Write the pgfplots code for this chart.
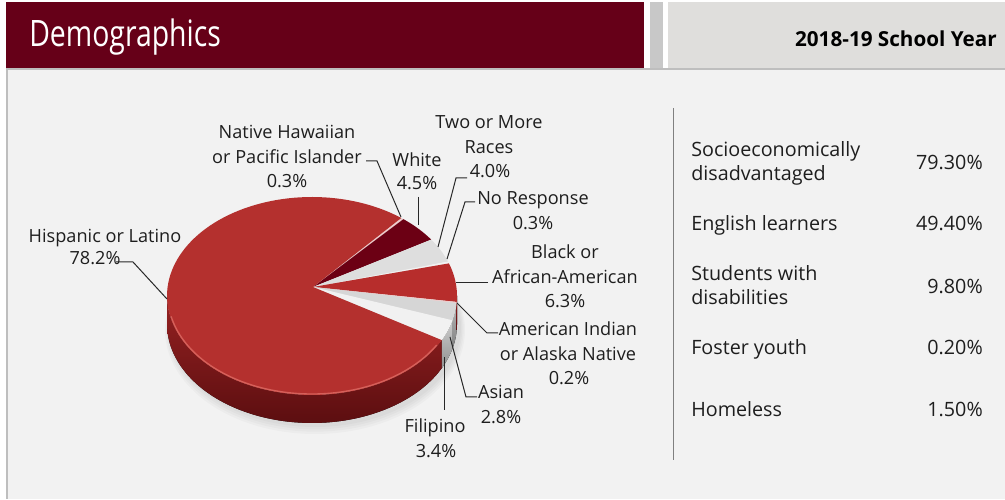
\documentclass[border=0pt]{standalone}
\usepackage{pgfplots}
\pgfplotsset{compat=1.18}
\usepgfplotslibrary{fillbetween}
\usepackage{graphicx}
\usepackage{fontspec}
\setmainfont{Open Sans}

\definecolor{maroonhdr}{RGB}{102,0,24}
\definecolor{hdrgrey}{RGB}{223,222,220}
\definecolor{bargrey}{RGB}{200,200,200}
\definecolor{bodybg}{RGB}{242,242,242}
\definecolor{linegrey}{RGB}{190,190,190}
\definecolor{hisp}{RGB}{180,48,46}
\definecolor{sidetop}{RGB}{150,34,34}
\definecolor{sidebot}{RGB}{92,14,16}
\definecolor{whiteslice}{RGB}{108,0,20}
\definecolor{twoslice}{RGB}{222,222,222}
\definecolor{blackslice}{RGB}{183,45,44}
\definecolor{asianslice}{RGB}{214,214,214}
\definecolor{filslice}{RGB}{241,241,241}
\definecolor{thinslice}{RGB}{238,205,205}
\definecolor{rimlight}{RGB}{214,96,90}
\definecolor{txt}{RGB}{30,30,30}
\definecolor{leader}{RGB}{40,40,40}

% pie geometry (pixels): centre 312,296 ; radii 145 x 99 ; depth 28 ; apex 313,287 ; start angle 52
% slice between cumulative percentages #2 and #3 (clockwise from the start angle)
\newcommand{\slice}[3]{%
  \addplot[fill=#1, draw=none, domain=52-3.6*#3:52-3.6*#2, samples=120]
    ({312+145*cos(x)},{296-99*sin(x)}) -- (axis cs:313,287) -- cycle;}
\newcommand{\sidepiece}[4]{%
  \addplot[name path=st#1, draw=none, domain=#3:#4, samples=80]
    ({312+145*cos(x)},{296-99*sin(x)});
  \addplot[name path=sb#1, draw=none, domain=#3:#4, samples=80]
    ({312+145*cos(x)},{324-99*sin(x)});
  \addplot[#2] fill between[of=st#1 and sb#1, on layer=main];}
\newcommand{\pl}[3]{\node[font=\fontsize{13.6}{16}\selectfont, text=txt, inner sep=0pt,
  text height=9.7pt, text depth=0pt, anchor=center] at (axis cs:#1,#2) {#3};}
\newcommand{\rl}[4]{\node[font=\fontsize{14.8}{17}\selectfont, text=txt, inner sep=0pt,
  text height=10.6pt, text depth=0pt, anchor=#3] at (axis cs:#1,#2) {#4};}

\begin{document}
\begin{tikzpicture}
\begin{axis}[width=753.75pt, height=374.25pt, scale only axis, hide axis,
  xmin=0, xmax=1005, ymin=0, ymax=499, y dir=reverse, clip=false]

% frame
\fill[white] (axis cs:0,0) rectangle (axis cs:1005,499);
\fill[maroonhdr] (axis cs:6,2) rectangle (axis cs:644,68);
\fill[bargrey] (axis cs:650,2) rectangle (axis cs:663,68);
\fill[hdrgrey] (axis cs:668,2) rectangle (axis cs:1005,68);
\fill[bodybg] (axis cs:6,68) rectangle (axis cs:1005,499);
\fill[linegrey] (axis cs:6,68) rectangle (axis cs:1005,70);
\fill[linegrey] (axis cs:6,68) rectangle (axis cs:8,499);

\node[font=\fontsize{27.3}{30}\selectfont, text=white, inner sep=0pt, text height=19.5pt,
  text depth=0pt, anchor=west] at (axis cs:29,34) {\scalebox{0.78}[1]{Demographics}};
\node[font=\fontsize{15.5}{18}\selectfont\bfseries, text=black, inner sep=0pt, text height=11.1pt,
  text depth=0pt, anchor=east] at (axis cs:997,39) {2018-19 School Year};

% soft shadow
\fill[black, opacity=0.025] (axis cs:315,327) ellipse [x radius=109.5pt, y radius=75pt];
\fill[black, opacity=0.025] (axis cs:315,328) ellipse [x radius=110.5pt, y radius=76pt];
\fill[black, opacity=0.025] (axis cs:315,329) ellipse [x radius=111.5pt, y radius=77pt];
\fill[black, opacity=0.025] (axis cs:315,330) ellipse [x radius=112.5pt, y radius=78pt];

% side of the pie (front half)
\sidepiece{h}{top color=sidetop, bottom color=sidebot}{-180}{52-3.6*21.8}
\sidepiece{f}{top color=filslice!85!black, bottom color=filslice!60!black}{52-3.6*21.8}{52-3.6*18.4}
\sidepiece{a}{top color=asianslice!85!black, bottom color=asianslice!60!black}{52-3.6*18.4}{52-3.6*15.6}
\sidepiece{i}{fill=thinslice!70!black}{52-3.6*15.6}{52-3.6*15.4}
\sidepiece{b}{top color=sidetop, bottom color=sidebot}{52-3.6*15.4}{0}

% top face: cumulative percentages clockwise from the top
\slice{thinslice}{0}{0.3}      % Native Hawaiian or Pacific Islander 0.3
\slice{whiteslice}{0.3}{4.8}   % White 4.5
\slice{twoslice}{4.8}{8.8}     % Two or More Races 4.0
\slice{filslice}{8.8}{9.1}     % No Response 0.3
\slice{blackslice}{9.1}{15.4}  % Black or African-American 6.3
\slice{thinslice}{15.4}{15.6}  % American Indian or Alaska Native 0.2
\slice{asianslice}{15.6}{18.4} % Asian 2.8
\slice{filslice}{18.4}{21.8}   % Filipino 3.4
\slice{hisp}{21.8}{100}        % Hispanic or Latino 78.2

% rim highlight
\addplot[draw=rimlight, line width=1pt, domain=192:330, samples=80]
  ({312+144*cos(x)},{296-98*sin(x)});

% leader lines
\draw[leader, line width=0.75pt] (axis cs:116,262) -- (axis cs:133,262) -- (axis cs:167,299);
\draw[leader, line width=0.75pt] (axis cs:366,161) -- (axis cs:377,161) -- (axis cs:401,217);
\draw[leader, line width=0.75pt] (axis cs:418,197) -- (axis cs:418,225);
\draw[leader, line width=0.75pt] (axis cs:467,178) -- (axis cs:456,178) -- (axis cs:438,247);
\draw[leader, line width=0.75pt] (axis cs:475,202) -- (axis cs:465,202) -- (axis cs:447,259);
\draw[leader, line width=0.75pt] (axis cs:488,283) -- (axis cs:456,283);
\draw[leader, line width=0.75pt] (axis cs:498,333) -- (axis cs:487,333) -- (axis cs:457,303);
\draw[leader, line width=0.75pt] (axis cs:477,397) -- (axis cs:466,397) -- (axis cs:450,337);
\draw[leader, line width=0.75pt] (axis cs:444,410) -- (axis cs:444,357);

% pie labels
\pl{287}{132}{Native Hawaiian}
\pl{287}{157}{or Pacific Islander}
\pl{287}{181}{0.3\%}
\pl{417}{160}{White}
\pl{417}{183}{4.5\%}
\pl{489}{122}{Two or More}
\pl{489}{147}{Races}
\pl{490}{171}{4.0\%}
\pl{533}{198}{No Response}
\pl{533}{223}{0.3\%}
\pl{565}{252}{Black or}
\pl{565}{277}{African-American}
\pl{565}{301}{6.3\%}
\pl{568}{329}{American Indian}
\pl{568}{354}{or Alaska Native}
\pl{569}{378}{0.2\%}
\pl{501}{392}{Asian}
\pl{501}{417}{2.8\%}
\pl{435}{426}{Filipino}
\pl{436}{451}{3.4\%}
\pl{105}{236}{Hispanic or Latino}
\pl{95}{258}{78.2\%}

% right panel
\draw[gray, line width=0.75pt] (axis cs:673,108) -- (axis cs:673,460);
\rl{691}{149}{west}{Socioeconomically}
\rl{691}{173}{west}{disadvantaged}
\rl{983}{162}{east}{79.30\%}
\rl{691}{223}{west}{English learners}
\rl{983}{223}{east}{49.40\%}
\rl{691}{273}{west}{Students with}
\rl{691}{297}{west}{disabilities}
\rl{983}{286}{east}{9.80\%}
\rl{691}{347}{west}{Foster youth}
\rl{983}{347}{east}{0.20\%}
\rl{691}{409}{west}{Homeless}
\rl{983}{409}{east}{1.50\%}
\end{axis}
\end{tikzpicture}
\end{document}
